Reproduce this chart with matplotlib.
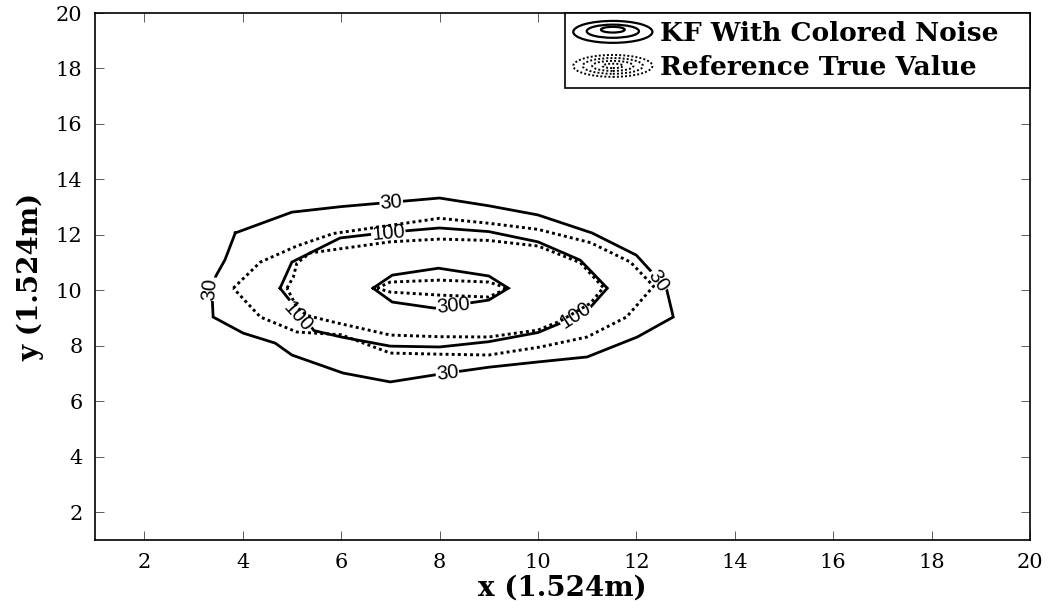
import matplotlib.pyplot as plt
from matplotlib.lines import Line2D
from matplotlib.patches import Ellipse
from matplotlib.legend_handler import HandlerBase

# Contour polylines (grid units, 1 unit = 1.524 m)
# KF with coloured noise (solid)
kf30_x = [3.85, 5.0, 6.0, 8.0, 9.0, 10.0, 11.1, 12.0, 12.61, 12.75, 12.02, 11.0,
          10.0, 9.0, 8.0, 7.0, 6.04, 5.0, 4.66, 4.01, 3.4, 3.38, 3.45, 3.64, 3.85]
kf30_y = [12.07, 12.82, 13.02, 13.33, 13.05, 12.72, 12.07, 11.27, 10.08, 9.04, 8.32, 7.6,
          7.42, 7.23, 6.98, 6.7, 7.02, 7.67, 8.1, 8.46, 9.04, 9.8, 10.5, 11.1, 12.07]
kf100_x = [4.76, 5.0, 5.98, 7.0, 8.0, 9.0, 10.0, 10.86, 11.41, 11.07, 10.46, 10.0,
           9.0, 8.0, 7.0, 6.0, 5.45, 4.76]
kf100_y = [10.08, 11.02, 11.89, 12.1, 12.25, 12.12, 11.75, 11.09, 10.08, 9.4, 8.82, 8.48,
           8.15, 7.96, 7.99, 8.32, 8.55, 10.08]
kf300_x = [6.65, 7.04, 7.98, 9.0, 9.4, 9.0, 7.9, 7.04, 6.65]
kf300_y = [10.08, 10.55, 10.8, 10.52, 10.08, 9.65, 9.36, 9.58, 10.08]

# reference true value (dotted)
ref30_x = [3.81, 4.36, 5.1, 5.84, 8.0, 9.0, 10.0, 11.07, 11.88, 12.35, 11.8, 11.0,
           10.05, 9.0, 8.0, 7.0, 6.0, 5.1, 4.36, 3.81]
ref30_y = [10.08, 11.02, 11.6, 12.05, 12.6, 12.42, 12.2, 11.72, 11.02, 10.15, 9.04, 8.32,
           7.96, 7.67, 7.7, 7.74, 8.4, 8.5, 9.04, 10.08]
ref100_x = [4.9, 5.03, 5.1, 5.37, 5.98, 7.0, 8.0, 9.0, 10.0, 10.86, 11.33, 11.07, 10.46,
            10.0, 9.0, 8.0, 7.0, 5.84, 5.3, 5.1, 4.9]
ref100_y = [10.08, 10.48, 10.98, 11.35, 11.5, 11.75, 11.85, 11.8, 11.6, 11.0, 10.1, 9.54, 8.9,
            8.57, 8.32, 8.33, 8.39, 8.86, 9.1, 9.4, 10.08]
ref300_x = [6.73, 7.0, 8.0, 9.0, 9.38, 9.0, 8.0, 7.0, 6.73]
ref300_y = [10.08, 10.3, 10.37, 10.3, 10.08, 9.76, 9.83, 9.94, 10.08]

# inline contour labels on the solid curves: text, x, y, rotation
lab_text = ['30', '100', '30', '100', '300', '100', '30', '30']
lab_x = [7.02, 6.96, 3.34, 5.11, 8.28, 10.76, 12.45, 8.16]
lab_y = [13.15, 12.07, 10.05, 9.04, 9.44, 9.11, 10.35, 7.02]
lab_rot = [5, 5, 85, -48, 6, 33, -55, 7]

legend_labels = ['KF With Colored Noise', 'Reference True Value']
xticks = [2, 4, 6, 8, 10, 12, 14, 16, 18, 20]
yticks = [2, 4, 6, 8, 10, 12, 14, 16, 18, 20]

SERIF = 'DejaVu Serif'
DOTS = (0, (1.0, 1.1))


class RingHandler(HandlerBase):
    # draws a little set of concentric ellipses as legend key
    def __init__(self, rings, ls, lw):
        super().__init__()
        self.rings = rings
        self.ls = ls
        self.lw = lw

    def create_artists(self, legend, orig_handle, xdescent, ydescent,
                       width, height, fontsize, trans):
        cx = 0.5 * width - xdescent
        cy = 0.5 * height - ydescent
        arts = []
        for fw, fh, dy in self.rings:
            e = Ellipse((cx, cy + dy * height), width * fw, height * fh, fill=False,
                        ec='black', lw=self.lw, ls=self.ls, transform=trans)
            arts.append(e)
        return arts


def main():
    fig = plt.figure(figsize=(10.57, 6.08), dpi=100)
    ax = fig.add_axes([0.0899, 0.1118, 0.8846, 0.8668])

    for xs, ys in [(kf30_x, kf30_y), (kf100_x, kf100_y), (kf300_x, kf300_y)]:
        ax.plot(xs, ys, color='black', lw=2.0, solid_joinstyle='miter', zorder=2)
    for xs, ys in [(ref30_x, ref30_y), (ref100_x, ref100_y), (ref300_x, ref300_y)]:
        ax.plot(xs, ys, color='black', lw=2.1, ls=DOTS, zorder=4)

    for t, x, y, r in zip(lab_text, lab_x, lab_y, lab_rot):
        ax.text(x, y, t, rotation=r, ha='center', va='center', fontsize=14.5,
                family='Liberation Sans', rotation_mode='anchor', zorder=3,
                bbox=dict(fc='white', ec='none', pad=0.5))

    ax.set_xlim(1, 20)
    ax.set_ylim(1, 20)
    ax.set_xticks(xticks)
    ax.set_yticks(yticks)
    ax.tick_params(direction='in', length=6.5, width=0.6, color='#444444',
                   top=True, right=True, labelsize=15, pad=9)
    for lbl in ax.get_xticklabels() + ax.get_yticklabels():
        lbl.set_family(SERIF)
    for sp in ax.spines.values():
        sp.set_linewidth(1.2)

    ax.set_xlabel('x (1.524m)', family=SERIF, fontweight='bold', fontsize=20, labelpad=2)
    ax.set_ylabel('y (1.524m)', family=SERIF, fontweight='bold', fontsize=20, labelpad=8)

    h1 = Line2D([], [], color='black')
    h2 = Line2D([], [], color='black', ls=':')
    solid_rings = [(1.0, 1.0, 0.0), (0.66, 0.6, 0.03), (0.3, 0.26, 0.1)]
    dot_rings = [(1.0, 1.0, 0.0), (0.76, 0.72, 0.0), (0.52, 0.46, 0.0), (0.26, 0.2, 0.0)]
    leg = ax.legend([h1, h2], legend_labels, loc='upper right',
                    bbox_to_anchor=(0.503, 0.86, 0.497, 0.14), mode='expand',
                    borderaxespad=0, fancybox=False, framealpha=1,
                    handlelength=3.0, handleheight=0.9, handletextpad=0.3,
                    borderpad=0.3, labelspacing=0.34,
                    prop={'family': SERIF, 'weight': 'bold', 'size': 19},
                    handler_map={h1: RingHandler(solid_rings, '-', 1.6),
                                 h2: RingHandler(dot_rings, DOTS, 1.4)})
    leg.get_frame().set_edgecolor('black')
    leg.get_frame().set_linewidth(1.2)

    fig.savefig('out.png', dpi=100)
    plt.close(fig)


if __name__ == '__main__':
    main()
